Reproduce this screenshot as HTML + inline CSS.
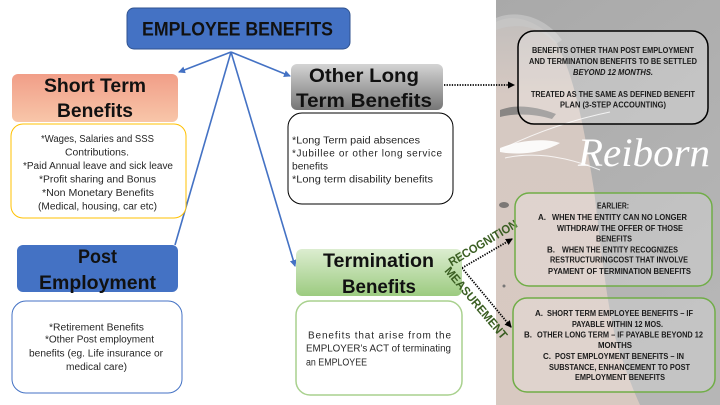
<!DOCTYPE html>
<html>
<head>
<meta charset="utf-8">
<style>
html,body{margin:0;padding:0;background:#fff;}
svg{display:block;}
.h{font-family:"Liberation Sans",Arial,sans-serif;font-weight:bold;font-size:19px;fill:#111;}
.b{font-family:"Liberation Sans",Arial,sans-serif;font-size:10px;fill:#262626;}
.r{font-family:"Liberation Sans",Arial,sans-serif;font-weight:bold;font-size:8px;fill:#1a1a1a;}
.g{font-family:"Liberation Sans",Arial,sans-serif;font-weight:bold;font-size:12px;fill:#3a5e22;}
</style>
</head>
<body>
<svg width="720" height="405" viewBox="0 0 720 405" xmlns="http://www.w3.org/2000/svg">
<defs>
  <linearGradient id="gOr" x1="0" y1="0" x2="0" y2="1">
    <stop offset="0" stop-color="#f19e88"/>
    <stop offset="1" stop-color="#f8c6a9"/>
  </linearGradient>
  <linearGradient id="gGr" x1="0" y1="0" x2="0" y2="1">
    <stop offset="0" stop-color="#d4d4d4"/>
    <stop offset="1" stop-color="#767676"/>
  </linearGradient>
  <linearGradient id="gGn" x1="0" y1="0" x2="0" y2="1">
    <stop offset="0" stop-color="#dcedd0"/>
    <stop offset="1" stop-color="#9ccb80"/>
  </linearGradient>
  <linearGradient id="bg" x1="0" y1="0" x2="0.4" y2="1">
    <stop offset="0" stop-color="#a9a9a9"/>
    <stop offset="0.5" stop-color="#b0b0b0"/>
    <stop offset="1" stop-color="#b6b6b6"/>
  </linearGradient>
  <linearGradient id="skin" x1="0" y1="0" x2="0" y2="1">
    <stop offset="0" stop-color="#c2bebc"/>
    <stop offset="0.2" stop-color="#d6c9c2"/>
    <stop offset="1" stop-color="#d8c9c1"/>
  </linearGradient>
  <marker id="ab" markerWidth="8" markerHeight="8" refX="6" refY="3.5" orient="auto" markerUnits="userSpaceOnUse">
    <path d="M0,0 L7,3.5 L0,7 Z" fill="#4472C4"/>
  </marker>
  <marker id="ak" markerWidth="8" markerHeight="8" refX="6" refY="3.5" orient="auto" markerUnits="userSpaceOnUse">
    <path d="M0,0 L7,3.5 L0,7 Z" fill="#000"/>
  </marker>
</defs>

<!-- background photo area -->
<rect x="496" y="0" width="224" height="405" fill="url(#bg)"/>
<path d="M496,22 C515,12 540,22 556,42 C576,78 586,140 594,190 C600,240 606,300 616,340 C626,372 634,392 640,405 L496,405 Z" fill="url(#skin)"/>
<path d="M496,18 C520,8 548,20 562,40 L556,44 C540,26 518,22 496,30 Z" fill="#c8c8c8" opacity="0.7"/>
<path d="M500,110 C515,104 535,106 556,114 L552,119 C535,114 515,113 500,117 Z" fill="#6f6f6f" opacity="0.75"/>
<ellipse cx="504" cy="205" rx="5" ry="3" fill="#555" opacity="0.7"/>
<circle cx="504" cy="286" r="1.5" fill="#777"/>
<path d="M500,148 C520,140 545,138 560,143 C545,152 520,156 500,152 Z" fill="#fff" opacity="0.9"/>
<path d="M500,150 C540,130 580,118 610,112" stroke="#fff" stroke-width="1" fill="none" opacity="0.8"/>
<path d="M505,158 C540,150 575,160 600,170" stroke="#fff" stroke-width="1" fill="none" opacity="0.8"/>
<text x="578" y="166" font-family="'Liberation Serif',serif" font-style="italic" font-size="40" fill="#fff" textLength="132" lengthAdjust="spacingAndGlyphs">Reiborn</text>

<!-- connectors -->
<g stroke="#4472C4" stroke-width="1.6" fill="none">
  <line x1="231" y1="52" x2="179" y2="72" marker-end="url(#ab)"/>
  <line x1="231" y1="52" x2="290" y2="76" marker-end="url(#ab)"/>
  <line x1="231" y1="52" x2="175" y2="245"/>
  <line x1="231" y1="52" x2="295" y2="266" marker-end="url(#ab)"/>
</g>
<g stroke="#000" stroke-width="1.8" fill="none" stroke-dasharray="1.3 1.3">
  <line x1="444" y1="85" x2="514" y2="85" marker-end="url(#ak)"/>
  <line x1="462" y1="268" x2="512" y2="239" marker-end="url(#ak)"/>
  <line x1="462" y1="268" x2="511" y2="327" marker-end="url(#ak)"/>
</g>

<!-- header boxes -->
<rect x="127" y="8" width="223" height="41" rx="7" fill="#4472C4" stroke="#2F528F" stroke-width="1"/>
<text class="h" x="142" y="35.5" textLength="191" lengthAdjust="spacingAndGlyphs">EMPLOYEE BENEFITS</text>

<rect x="12" y="74" width="166" height="48" rx="6" fill="url(#gOr)"/>
<text class="h" x="44" y="92" textLength="102" lengthAdjust="spacingAndGlyphs">Short Term</text>
<text class="h" x="57" y="117" textLength="76" lengthAdjust="spacingAndGlyphs">Benefits</text>

<rect x="291" y="64" width="152" height="46" rx="6" fill="url(#gGr)"/>
<text class="h" x="309" y="82" textLength="110" lengthAdjust="spacingAndGlyphs">Other Long</text>
<text class="h" x="296" y="107" textLength="136" lengthAdjust="spacingAndGlyphs">Term Benefits</text>

<rect x="17" y="245" width="161" height="47" rx="6" fill="#4472C4"/>
<text class="h" x="78" y="263" textLength="39" lengthAdjust="spacingAndGlyphs">Post</text>
<text class="h" x="39" y="289" textLength="117" lengthAdjust="spacingAndGlyphs">Employment</text>

<rect x="296" y="249" width="166" height="47" rx="6" fill="url(#gGn)"/>
<text class="h" x="323" y="267" textLength="111" lengthAdjust="spacingAndGlyphs">Termination</text>
<text class="h" x="342" y="293" textLength="74" lengthAdjust="spacingAndGlyphs">Benefits</text>

<!-- content boxes -->
<rect x="11" y="124" width="175" height="94" rx="12" fill="#fff" stroke="#FFC000" stroke-width="1"/>
<text class="b" x="41" y="142" textLength="113" lengthAdjust="spacingAndGlyphs">*Wages, Salaries and SSS</text>
<text class="b" x="65" y="155.5" textLength="64" lengthAdjust="spacingAndGlyphs">Contributions.</text>
<text class="b" x="23" y="169" textLength="150" lengthAdjust="spacingAndGlyphs">*Paid Annual leave and sick leave</text>
<text class="b" x="39" y="182.5" textLength="117" lengthAdjust="spacingAndGlyphs">*Profit sharing and Bonus</text>
<text class="b" x="42" y="196" textLength="112" lengthAdjust="spacingAndGlyphs">*Non Monetary Benefits</text>
<text class="b" x="38" y="209.5" textLength="119" lengthAdjust="spacingAndGlyphs">(Medical, housing, car etc)</text>

<rect x="288" y="113" width="165" height="91" rx="14" fill="#fff" stroke="#000" stroke-width="1"/>
<text class="b" x="292" y="143.5" textLength="128" lengthAdjust="spacingAndGlyphs">*Long Term paid absences</text>
<text class="b" x="292" y="156.5" textLength="150" lengthAdjust="spacing">*Jubillee or other long service</text>
<text class="b" x="292" y="169.5" textLength="36" lengthAdjust="spacingAndGlyphs">benefits</text>
<text class="b" x="292" y="182.5" textLength="141" lengthAdjust="spacingAndGlyphs">*Long term disability benefits</text>

<rect x="12" y="301" width="170" height="92" rx="14" fill="#fff" stroke="#4472C4" stroke-width="1"/>
<text class="b" x="49" y="330.5" textLength="95" lengthAdjust="spacingAndGlyphs">*Retirement Benefits</text>
<text class="b" x="45" y="342.5" textLength="109" lengthAdjust="spacingAndGlyphs">*Other Post employment</text>
<text class="b" x="29" y="356.5" textLength="134" lengthAdjust="spacingAndGlyphs">benefits (eg. Life insurance or</text>
<text class="b" x="66" y="370" textLength="61" lengthAdjust="spacingAndGlyphs">medical care)</text>

<rect x="296" y="301" width="166" height="94" rx="14" fill="#fff" stroke="#A9D18E" stroke-width="1.5"/>
<text class="b" x="308" y="338.5" textLength="143" lengthAdjust="spacing">Benefits that arise from the</text>
<text class="b" x="306" y="351.5" textLength="145" lengthAdjust="spacingAndGlyphs">EMPLOYER’s ACT of terminating</text>
<text class="b" x="306" y="365.5" textLength="61" lengthAdjust="spacingAndGlyphs">an EMPLOYEE</text>

<!-- rotated labels -->
<text class="g" transform="translate(483,243) rotate(-31)" text-anchor="middle" dominant-baseline="central" textLength="78" lengthAdjust="spacingAndGlyphs">RECOGNITION</text>
<text class="g" transform="translate(476,303) rotate(50)" text-anchor="middle" dominant-baseline="central" textLength="90" lengthAdjust="spacingAndGlyphs">MEASUREMENT</text>

<!-- right boxes -->
<rect x="518" y="31" width="190" height="93" rx="16" fill="#ffffff" fill-opacity="0.25" stroke="#000" stroke-width="1.5"/>
<text class="r" x="532" y="53" textLength="162" lengthAdjust="spacingAndGlyphs">BENEFITS OTHER THAN POST EMPLOYMENT</text>
<text class="r" x="529" y="64" textLength="168" lengthAdjust="spacingAndGlyphs">AND TERMINATION BENEFITS TO BE SETTLED</text>
<text class="r" x="573" y="75" font-style="italic" textLength="80" lengthAdjust="spacingAndGlyphs">BEYOND 12 MONTHS.</text>
<text class="r" x="531" y="97" textLength="164" lengthAdjust="spacingAndGlyphs">TREATED AS THE SAME AS DEFINED BENEFIT</text>
<text class="r" x="560" y="107.5" textLength="106" lengthAdjust="spacingAndGlyphs">PLAN (3-STEP ACCOUNTING)</text>

<rect x="515" y="193" width="197" height="93" rx="14" fill="#ffffff" fill-opacity="0.2" stroke="#70AD47" stroke-width="1.5"/>
<text class="r" x="597" y="208.3" textLength="32" lengthAdjust="spacingAndGlyphs">EARLIER:</text>
<text class="r" x="538" y="220" textLength="8" lengthAdjust="spacingAndGlyphs">A.</text>
<text class="r" x="552" y="220" textLength="135" lengthAdjust="spacingAndGlyphs">WHEN THE ENTITY CAN NO LONGER</text>
<text class="r" x="557" y="231" textLength="126" lengthAdjust="spacingAndGlyphs">WITHDRAW THE OFFER OF THOSE</text>
<text class="r" x="596" y="241.7" textLength="36" lengthAdjust="spacingAndGlyphs">BENEFITS</text>
<text class="r" x="547" y="252.3" textLength="8" lengthAdjust="spacingAndGlyphs">B.</text>
<text class="r" x="562" y="252.3" textLength="116" lengthAdjust="spacingAndGlyphs">WHEN THE ENTITY RECOGNIZES</text>
<text class="r" x="550" y="262.7" textLength="138" lengthAdjust="spacingAndGlyphs">RESTRUCTURINGCOST THAT INVOLVE</text>
<text class="r" x="548" y="274" textLength="143" lengthAdjust="spacingAndGlyphs">PYAMENT OF TERMINATION BENEFITS</text>

<rect x="513" y="298" width="202" height="94" rx="14" fill="#ffffff" fill-opacity="0.2" stroke="#70AD47" stroke-width="1.5"/>
<text class="r" x="535" y="316" textLength="8" lengthAdjust="spacingAndGlyphs">A.</text>
<text class="r" x="547" y="316" textLength="146" lengthAdjust="spacingAndGlyphs">SHORT TERM EMPLOYEE BENEFITS – IF</text>
<text class="r" x="572" y="327" textLength="91" lengthAdjust="spacingAndGlyphs">PAYABLE WITHIN 12 MOS.</text>
<text class="r" x="524" y="337.5" textLength="8" lengthAdjust="spacingAndGlyphs">B.</text>
<text class="r" x="537" y="337.5" textLength="166" lengthAdjust="spacingAndGlyphs">OTHER LONG TERM – IF PAYABLE BEYOND 12</text>
<text class="r" x="598" y="348" textLength="34" lengthAdjust="spacingAndGlyphs">MONTHS</text>
<text class="r" x="543" y="359" textLength="8" lengthAdjust="spacingAndGlyphs">C.</text>
<text class="r" x="555" y="359" textLength="129" lengthAdjust="spacingAndGlyphs">POST EMPLOYMENT BENEFITS – IN</text>
<text class="r" x="549" y="370" textLength="141" lengthAdjust="spacingAndGlyphs">SUBSTANCE, ENHANCEMENT TO POST</text>
<text class="r" x="575" y="380" textLength="90" lengthAdjust="spacingAndGlyphs">EMPLOYMENT BENEFITS</text>
</svg>
</body>
</html>
